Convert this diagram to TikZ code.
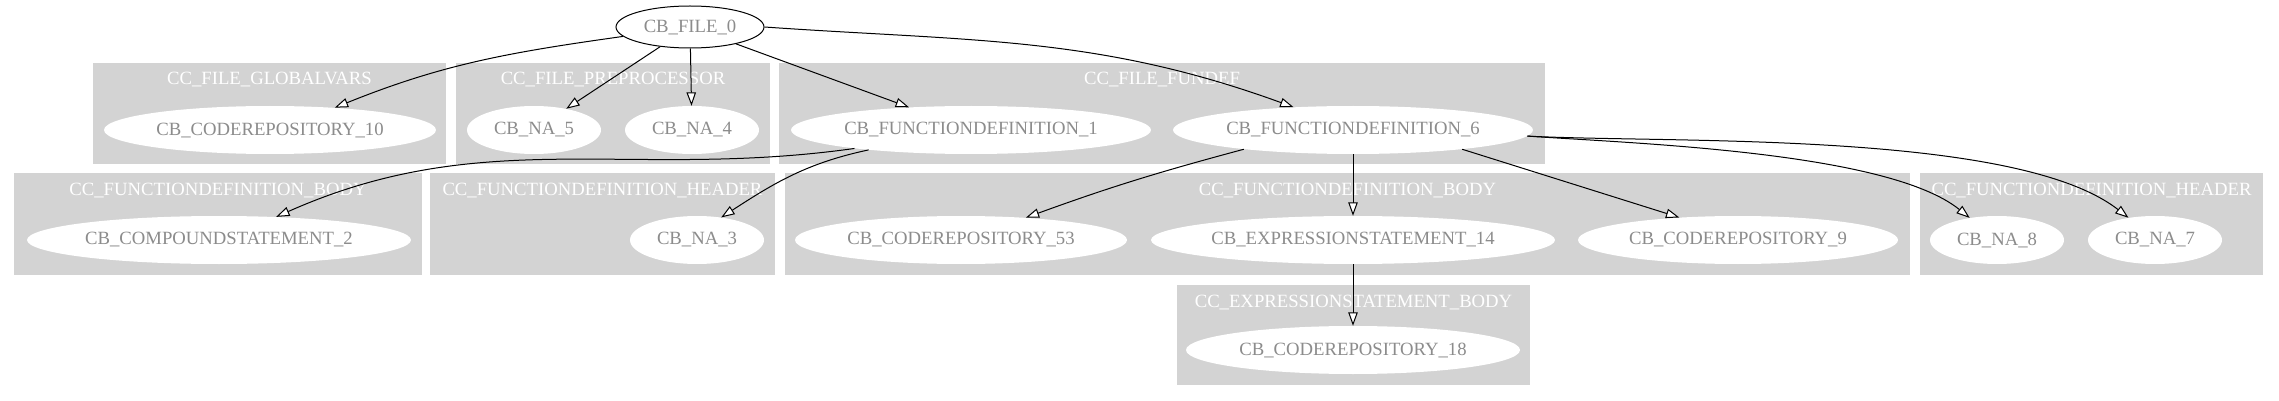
\documentclass[tikz,border=0pt]{standalone}
\usepackage{fontspec}
\setmainfont{Liberation Serif}
\usetikzlibrary{arrows.meta,shapes.geometric}
\definecolor{clustergray}{HTML}{D3D3D3}

\begin{document}
\begin{tikzpicture}[x=1pt, y=1pt,
    cb/.style={ellipse, fill=white, inner sep=0pt, minimum height=48pt,
      text=black!45, font=\fontsize{18.7}{22}\selectfont},
    cluster/.style={fill=clustergray},
    clabel/.style={anchor=base, inner sep=0pt, text=white,
      font=\fontsize{18.7}{22}\selectfont},
    edge/.style={line width=1pt,
      -{Triangle[fill=white, length=13.4pt, width=9.4pt]}}]
    \useasboundingbox (0,0) rectangle (2279,-401);

    % Clusters
    \foreach \xa/\ya/\xb/\yb/\lab [count=\i] in {
        93/63/446/164/CC\_FILE\_GLOBALVARS,
        456/63/770/164/CC\_FILE\_PREPROCESSOR,
        779/63/1545/164/CC\_FILE\_FUNDEF,
        14/173/422/275/CC\_FUNCTIONDEFINITION\_BODY,
        430/173/775/275/CC\_FUNCTIONDEFINITION\_HEADER,
        785/173/1910/275/CC\_FUNCTIONDEFINITION\_BODY,
        1920/173/2263/275/CC\_FUNCTIONDEFINITION\_HEADER,
        1177/285/1530/385/CC\_EXPRESSIONSTATEMENT\_BODY} {
      \fill[cluster] (\xa,-\ya) rectangle (\xb,-\yb);
      \node[clabel] (lab\i) at ({(\xa+\xb)/2}, {-\ya-22}) {\lab};
    }

    % Root
    \node[cb, draw=black, line width=1pt, minimum width=148pt,
          minimum height=42pt] (file0) at (690,-27) {CB\_FILE\_0};

    % File level
    \node[cb, minimum width=332pt] (repo10) at (270,-130) {CB\_CODEREPOSITORY\_10};
    \node[cb, minimum width=134pt] (na5) at (534,-130) {CB\_NA\_5};
    \node[cb, minimum width=134pt] (na4) at (692,-130) {CB\_NA\_4};
    \node[cb, minimum width=360pt] (fundef1) at (971,-130) {CB\_FUNCTIONDEFINITION\_1};
    \node[cb, minimum width=360pt] (fundef6) at (1353,-130) {CB\_FUNCTIONDEFINITION\_6};

    % Function level
    \node[cb, minimum width=384pt] (comp2) at (219,-240) {CB\_COMPOUNDSTATEMENT\_2};
    \node[cb, minimum width=134pt] (na3) at (697,-240) {CB\_NA\_3};
    \node[cb, minimum width=332pt] (repo53) at (961,-240) {CB\_CODEREPOSITORY\_53};
    \node[cb, minimum width=404pt] (expr14) at (1353,-240) {CB\_EXPRESSIONSTATEMENT\_14};
    \node[cb, minimum width=320pt] (repo9) at (1738,-240) {CB\_CODEREPOSITORY\_9};
    \node[cb, minimum width=134pt] (na8) at (1997,-240) {CB\_NA\_8};
    \node[cb, minimum width=134pt] (na7) at (2155,-240) {CB\_NA\_7};

    % Statement level
    \node[cb, minimum width=334pt] (repo18) at (1353,-350) {CB\_CODEREPOSITORY\_18};

    % Connections
    \draw[edge] (file0.188) to[out=188, in=22] (repo10.19);
    \draw[edge] (file0) -- (na5);
    \draw[edge] (file0) -- (na4);
    \draw[edge] (file0) -- (fundef1);
    \draw[edge] (file0.east) to[out=-4, in=160] (fundef6.159);
    \draw[edge] (fundef1.189) to[out=188, in=24] (comp2.22);
    \draw[edge] (fundef1.191) to[out=192, in=33] (na3.43);
    \draw[edge] (fundef6.190) to[out=195, in=20] (repo53.19);
    \draw[edge] (fundef6) -- (expr14);
    \draw[edge] (fundef6.-10) -- (repo9.159);
    \draw[edge] (fundef6.-2) to[out=-4, in=141, looseness=0.6] (na8.141);
    \draw[edge] (fundef6.-2) to[out=-3, in=142, looseness=0.6] (na7.140);
    \draw[edge] (expr14) -- (repo18);
\end{tikzpicture}
\end{document}
